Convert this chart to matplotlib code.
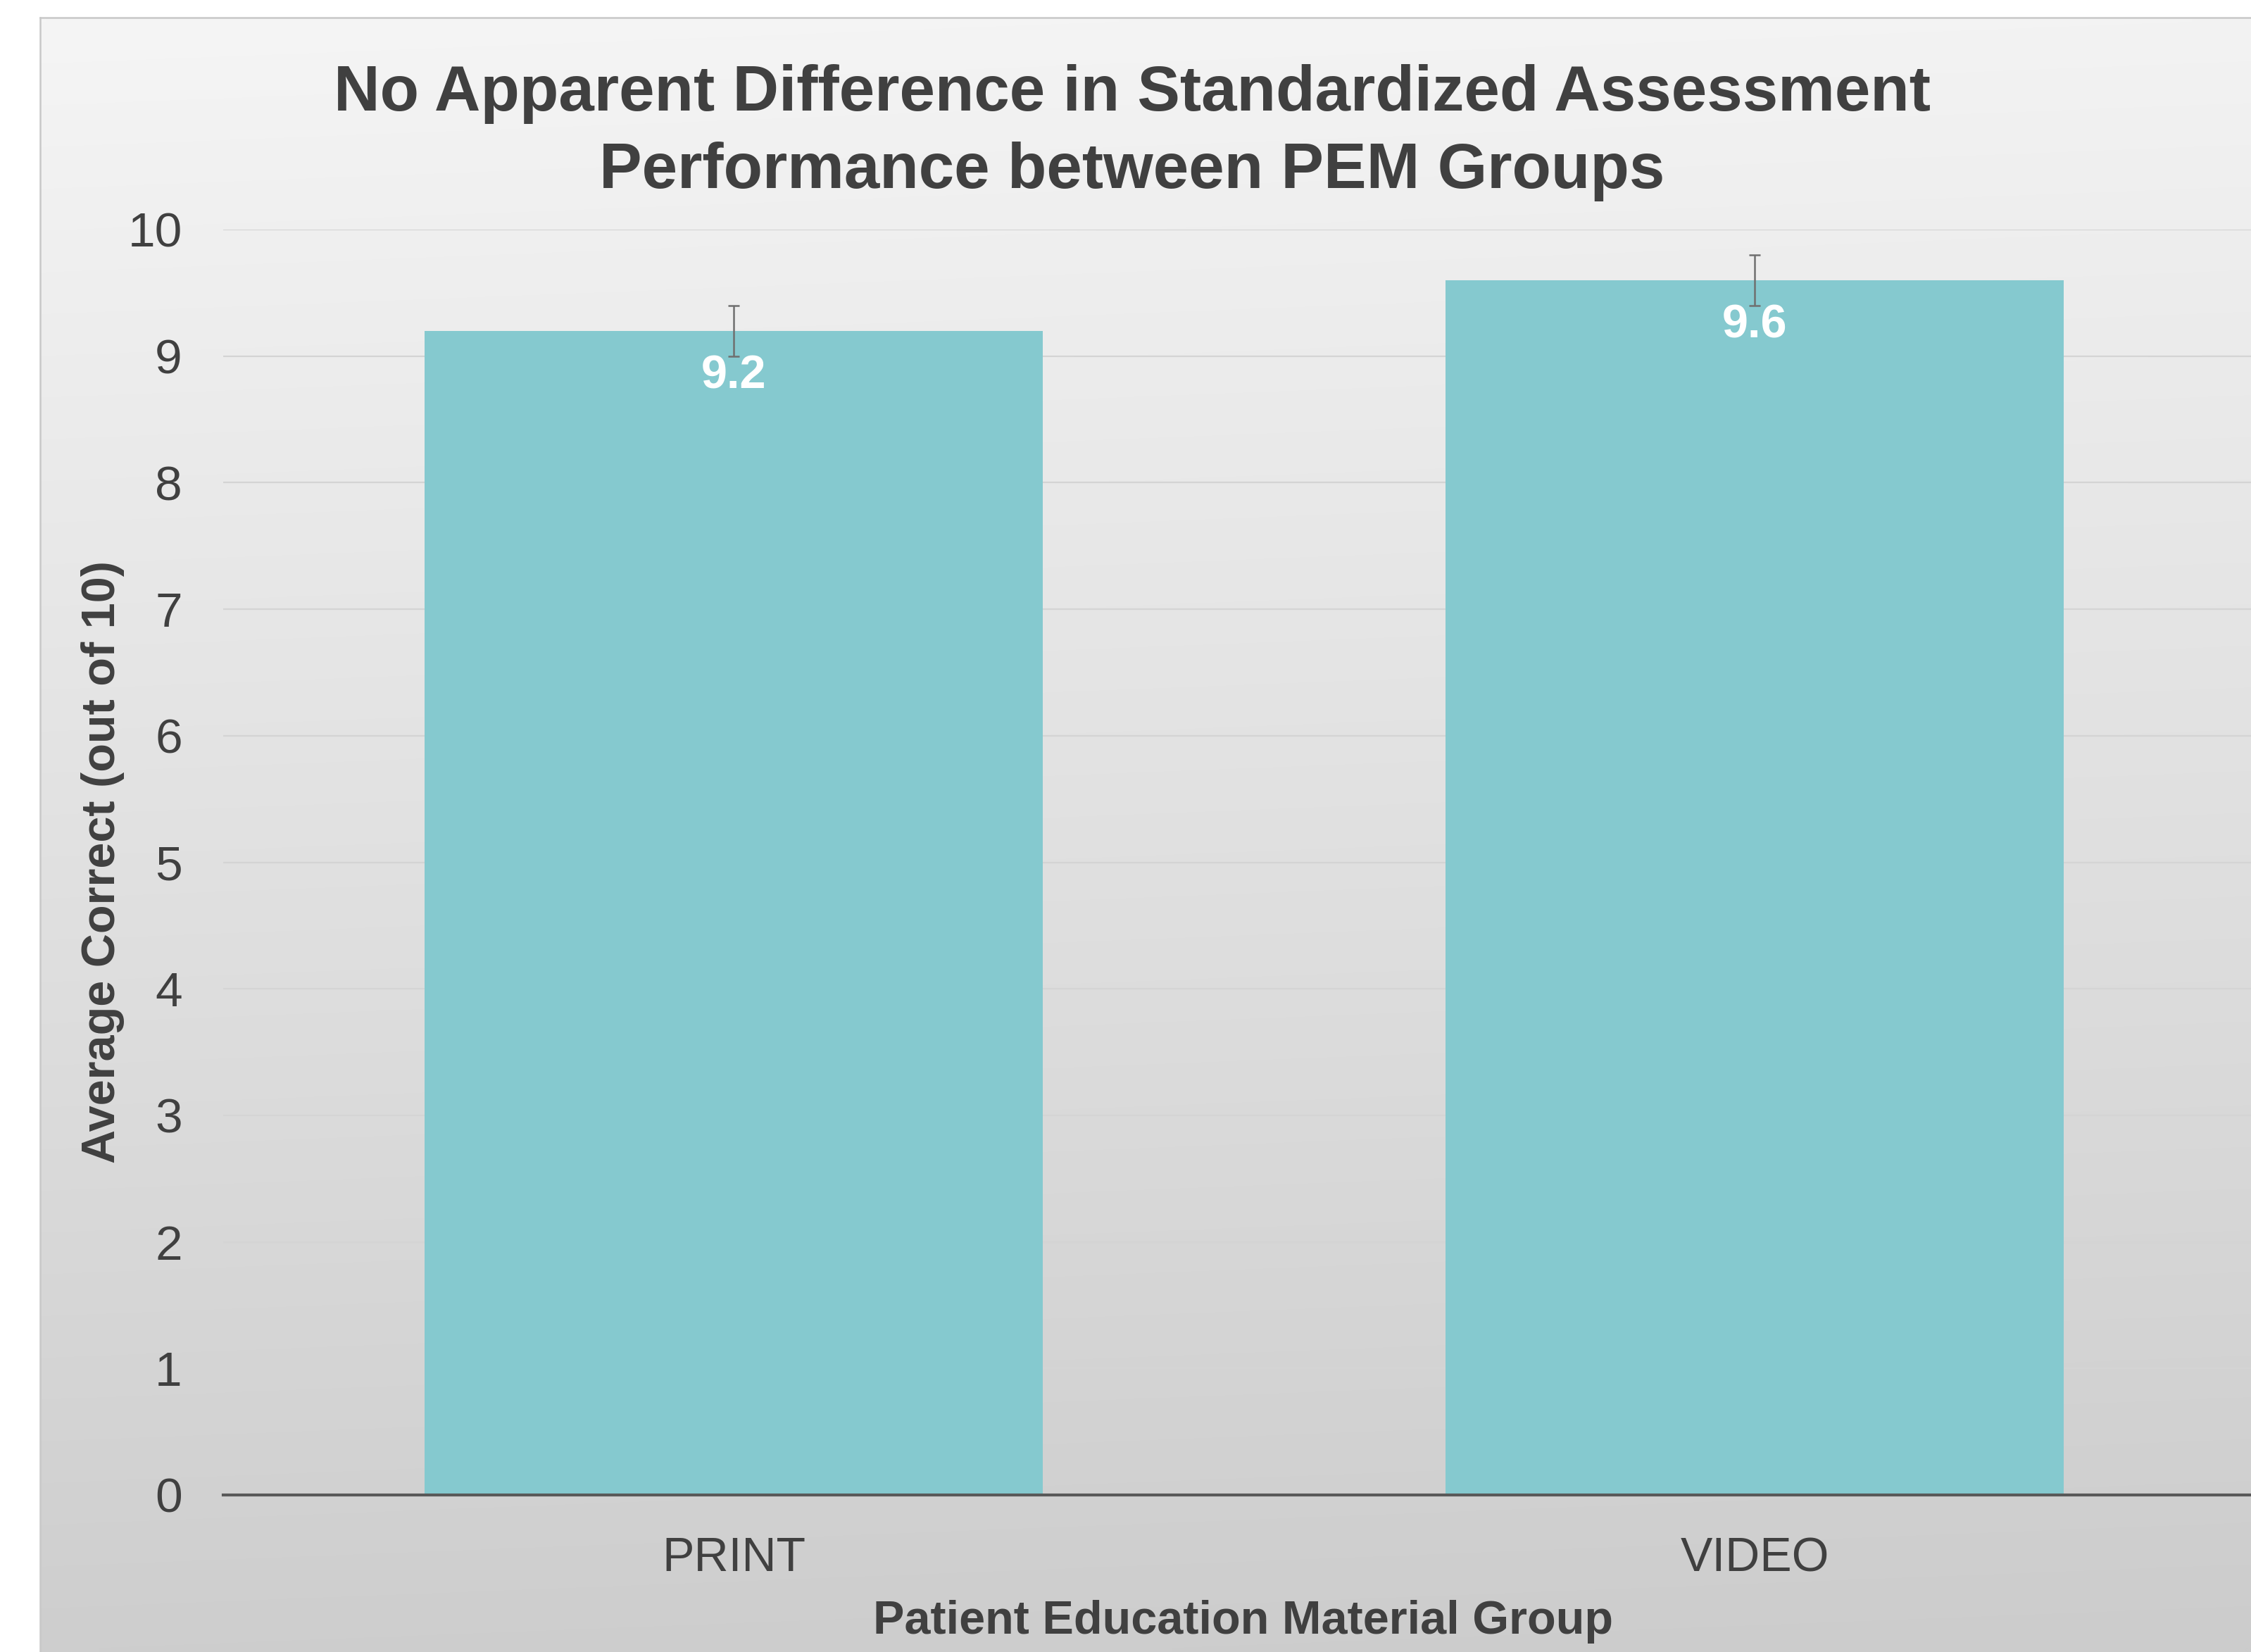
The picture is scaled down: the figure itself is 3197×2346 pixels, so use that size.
import numpy as np
import matplotlib
matplotlib.use("Agg")
import matplotlib.pyplot as plt

# ---- data ----
categories = ["PRINT", "VIDEO"]
values = [9.2, 9.6]
errors = [0.2, 0.2]
yticks = [0, 1, 2, 3, 4, 5, 6, 7, 8, 9, 10]
title_lines = ["No Apparent Difference in Standardized Assessment",
               "Performance between PEM Groups"]
xlabel = "Patient Education Material Group"
ylabel = "Average Correct (out of 10)"

plt.rcParams['font.family'] = ['Liberation Sans', 'DejaVu Sans']

W, H = 3197, 2346
DPI = 200
fig = plt.figure(figsize=(W / DPI, H / DPI), dpi=DPI)
fig.patch.set_facecolor("white")

# ---- gradient background frame ----
fx0, fy0 = 57, 25
bg = fig.add_axes([fx0 / W, 0, 1 - fx0 / W, 1 - fy0 / H], zorder=0)
ny, nx = 200, 200
yy, xx = np.mgrid[0:1:ny * 1j, 0:1:nx * 1j]
t = np.clip(yy * 0.95 + xx * 0.05, 0, 1)
top, bot = 245.0, 204.0
g = (top + (bot - top) * t) / 255.0
img = np.dstack([g, g, g])
bg.imshow(img, extent=[0, 1, 0, 1], aspect="auto", origin="upper", interpolation="bilinear")
bg.set_xlim(0, 1)
bg.set_ylim(0, 1)
bg.set_xticks([])
bg.set_yticks([])
for s in ["right", "bottom"]:
    bg.spines[s].set_visible(False)
for s in ["left", "top"]:
    bg.spines[s].set_color("#c8c8c8")
    bg.spines[s].set_linewidth(0.9)

# ---- main axes ----
ax_left, ax_right = 317, 3217
ax_top, ax_bot = 326, 2123
ax = fig.add_axes([ax_left / W, (H - ax_bot) / H, (ax_right - ax_left) / W, (ax_bot - ax_top) / H], zorder=1)
ax.set_facecolor("none")

x = np.arange(len(categories))
bars = ax.bar(x, values, width=0.606, color="#85c9cf", zorder=2)
ax.errorbar(x, values, yerr=errors, fmt="none", ecolor="#6f6f6f",
            elinewidth=0.9, capsize=3.0, capthick=0.9, zorder=4)

for xi, v in zip(x, values):
    ax.annotate(f"{v:.1f}", xy=(xi, v), xytext=(0, -29.5), textcoords="offset points",
                ha="center", va="baseline", color="white", fontsize=24,
                fontweight="bold", zorder=5)

ax.set_xlim(-0.5, 1.5)
ax.set_ylim(0, 10)
ax.set_yticks(yticks)
ax.set_xticks(x)
ax.set_xticklabels(categories)
ax.tick_params(axis="y", length=0, pad=21, labelsize=25, labelcolor="#404040")
ax.tick_params(axis="x", length=0, pad=21, labelsize=24.5, labelcolor="#404040")
ax.yaxis.grid(True, color="#d4d4d4", linewidth=0.8, zorder=0)
ax.set_axisbelow(True)
for s in ["left", "right", "top"]:
    ax.spines[s].set_visible(False)
ax.spines["bottom"].set_color("#595959")
ax.spines["bottom"].set_linewidth(1.5)
ax.spines["bottom"].set_zorder(3)

# ---- texts ----
fig.text(1608 / W, 1 - 157 / H, title_lines[0], ha="center", va="baseline",
         fontsize=32.7, fontweight="bold", color="#404040")
fig.text(1608 / W, 1 - 267 / H, title_lines[1], ha="center", va="baseline",
         fontsize=32.7, fontweight="bold", color="#404040")
fig.text(1766 / W, 1 - 2320 / H, xlabel, ha="center", va="baseline",
         fontsize=24, fontweight="bold", color="#404040")
fig.text(163 / W, 1 - 1224 / H, ylabel, ha="center", va="baseline", rotation=90,
         rotation_mode="anchor", fontsize=24, fontweight="bold", color="#404040")

fig.savefig("out.png", dpi=DPI)
